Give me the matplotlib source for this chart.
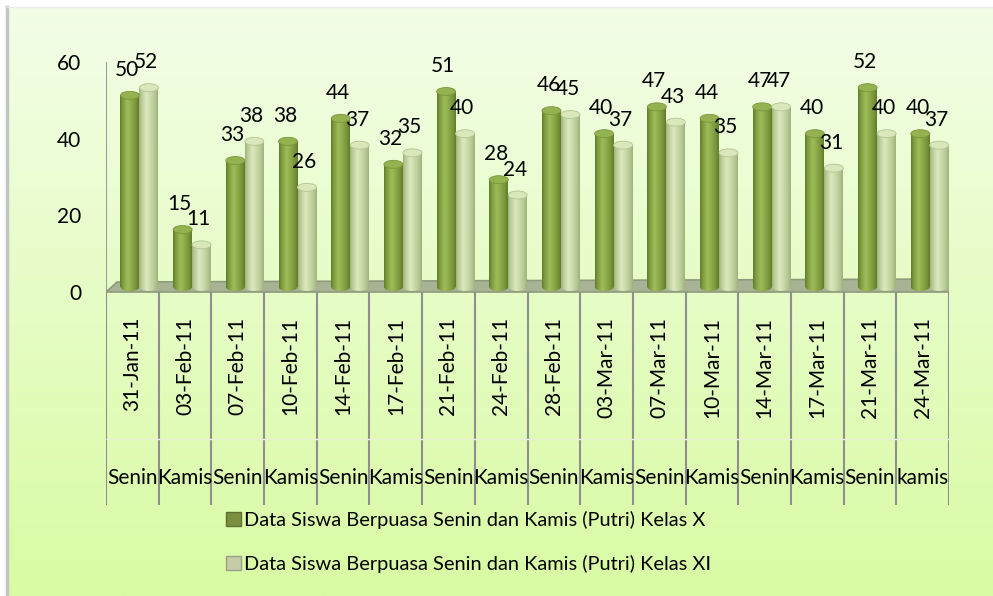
import numpy as np
import matplotlib
matplotlib.use('Agg')
import matplotlib.pyplot as plt
from matplotlib.patches import Ellipse, Polygon, Rectangle
from matplotlib.colors import to_rgb

plt.rcParams['font.family'] = ['Lato', 'DejaVu Sans']

### Data
tanggal = ['31-Jan-11', '03-Feb-11', '07-Feb-11', '10-Feb-11', '14-Feb-11', '17-Feb-11',
           '21-Feb-11', '24-Feb-11', '28-Feb-11', '03-Mar-11', '07-Mar-11', '10-Mar-11',
           '14-Mar-11', '17-Mar-11', '21-Mar-11', '24-Mar-11']
hari = ['Senin', 'Kamis', 'Senin', 'Kamis', 'Senin', 'Kamis', 'Senin', 'Kamis',
        'Senin', 'Kamis', 'Senin', 'Kamis', 'Senin', 'Kamis', 'Senin', 'kamis']
kelas_x = [50, 15, 33, 38, 44, 32, 51, 28, 46, 40, 47, 44, 47, 40, 52, 40]
kelas_xi = [52, 11, 38, 26, 37, 35, 40, 24, 45, 37, 43, 35, 47, 31, 40, 37]
label_x = 'Data Siswa Berpuasa Senin dan Kamis (Putri) Kelas X'
label_xi = 'Data Siswa Berpuasa Senin dan Kamis (Putri) Kelas XI'

W, H = 993, 596
FS = 15
fig = plt.figure(figsize=(W / 100, H / 100), dpi=100)

### Background gradient
bg = fig.add_axes([0, 0, 1, 1])
bg.set_axis_off()
t = np.linspace(0, 1, 256)[:, None, None]
c_top = np.array(to_rgb('#f3fee7'))
c_bot = np.array(to_rgb('#d9fba3'))
bg.imshow(c_top * (1 - t) + c_bot * t, extent=(7, W, H, 7), aspect='auto')
bg.plot([7, 7], [7, H], color='#c4c4c4', lw=2.5)
bg.plot([7, W], [7, 7], color='#ececec', lw=1)
bg.set_xlim(0, W)
bg.set_ylim(H, 0)

### Main axes (0 at y=292px, 60 at y=62px)
unit = (292 - 62) / 60
y_bottom = -(505 - 292) / unit
ax = fig.add_axes([106 / W, (H - 505) / H, 843 / W, (505 - 62) / H])
ax.patch.set_alpha(0)
for s in ax.spines.values():
    s.set_visible(False)


def cyl_gradient(edge, light):
    edge = np.array(to_rgb(edge))
    light = np.array(to_rgb(light))
    u = np.linspace(0, 1, 64)
    w = np.where(u < 0.4, u / 0.4, 1 - (u - 0.4) / 0.6)
    w = np.clip(w, 0, 1) ** 0.7
    row = edge * (1 - w[:, None]) + light * w[:, None]
    return row[None, :, :]


grad_x = cyl_gradient('#5d7926', '#9ebd58')
grad_xi = cyl_gradient('#9bb077', '#dbe9bd')

# floor
floor = Polygon([(-0.5, 0), (15.5, 0), (15.8, 3.4), (-0.29, 2.6)], closed=True,
                fc='#a7b394', ec='#8e9a7c', lw=1.2, zorder=2)
ax.add_patch(floor)

x = np.arange(len(tanggal))
bw = 0.36
base = 1.3
eh = 8 / unit

bars_x = ax.bar(x - 0.045, kelas_x, bw, bottom=base, color='none', zorder=3)
bars_xi = ax.bar(x + 0.315, kelas_xi, bw, bottom=base, color='none', zorder=3)

for bars, vals, grad, top_c, top_e in [(bars_x, kelas_x, grad_x, '#94b24f', '#7a963c'),
                                       (bars_xi, kelas_xi, grad_xi, '#d9e7ba', '#b3c494')]:
    for p, v in zip(bars, vals):
        x0, w = p.get_x(), p.get_width()
        y0, h = p.get_y(), p.get_height()
        cx = x0 + w / 2
        im = ax.imshow(grad, extent=(x0, x0 + w, y0, y0 + h), aspect='auto',
                       interpolation='bilinear', zorder=3)
        im.set_clip_path(p)
        e_bot = Ellipse((cx, y0), w, eh, fc='none', ec='none', zorder=3)
        ax.add_patch(e_bot)
        im2 = ax.imshow(grad, extent=(x0, x0 + w, y0 - eh / 2, y0), aspect='auto',
                        interpolation='bilinear', zorder=3)
        im2.set_clip_path(e_bot)
        ax.add_patch(Ellipse((cx, y0 + h), w, eh, fc=top_c, ec=top_e, lw=0.6, zorder=4))
        ax.annotate(str(v), (cx, y0 + h), xytext=(-2, 14), textcoords='offset points',
                    ha='center', va='baseline', fontsize=FS, zorder=6)

### Category axis
ax.vlines(np.arange(len(tanggal) + 1) - 0.5, y_bottom, 0, colors='#8f8f8f', lw=1.5, zorder=1)
ax.vlines(-0.5, 0, 60.5, colors='#9a9a9a', lw=1.5, zorder=2)
ax.hlines(-38.4, -0.5, 15.5, colors='#e7f2d8', lw=1, zorder=1)
for i, (d, h) in enumerate(zip(tanggal, hari)):
    ax.text(i, -6.5, d, rotation=90, ha='center', va='top', fontsize=FS)
    ax.text(i, -48.5, h, ha='center', va='center', fontsize=FS)

ax.set_xticks([])
ax.set_yticks([0, 20, 40, 60])
ax.tick_params(axis='y', length=0, pad=18, labelsize=FS)
ax.set_xlim(-0.5, 15.5)
ax.set_ylim(y_bottom, 60)

### Legend
handles = [Rectangle((0, 0), 1, 1, fc='#7a9040', ec='#5d6e30'),
           Rectangle((0, 0), 1, 1, fc='#c6cca8', ec='#9aa088')]
fig.legend(handles, [label_x, label_xi], loc='upper left', bbox_to_anchor=(226 / W, 1 - 511 / H),
           frameon=False, fontsize=14.4, handlelength=0.75, handleheight=0.75,
           handletextpad=0.15, labelspacing=1.3, borderpad=0, borderaxespad=0)

fig.savefig('out.png', dpi=100)
